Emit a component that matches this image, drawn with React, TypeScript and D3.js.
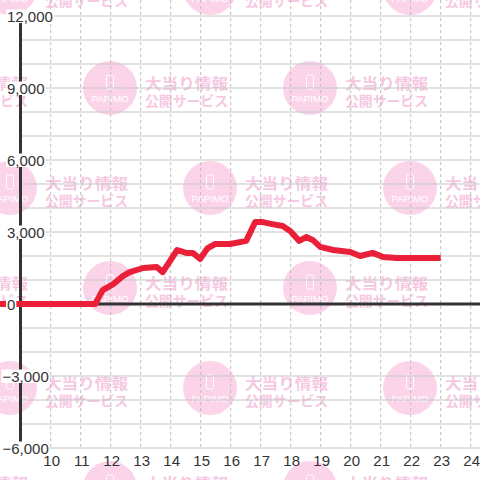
import { useRef, useEffect } from "react";
import * as d3 from 'd3';

// time of day (HH:MM) and balance at that time
const times = ["08:00", "11:29", "11:44", "12:05", "12:25", "12:38", "13:05", "13:32", "13:44", "14:13", "14:31", "14:44", "14:59", "15:14", "15:29", "15:59", "16:31", "16:49", "17:02", "17:23", "17:44", "17:59", "18:17", "18:31", "18:44", "18:59", "19:25", "19:59", "20:19", "20:44", "21:05", "21:32", "23:00"];
const values = [0, 0, 580, 830, 1170, 1330, 1500, 1540, 1330, 2250, 2130, 2130, 1880, 2330, 2500, 2500, 2630, 3420, 3420, 3330, 3250, 3040, 2630, 2790, 2670, 2380, 2250, 2170, 2000, 2130, 1960, 1920, 1920];

const hourTicks = [10, 11, 12, 13, 14, 15, 16, 17, 18, 19, 20, 21, 22, 23, 24];
const valueLabels = [12000, 9000, 6000, 3000, 0, -3000, -6000];
const gridValues = d3.range(-6000, 12001, 1000);

const WIDTH = 480;
const HEIGHT = 480;
const FONT = "'Liberation Sans', Arial, sans-serif";

function toHour(t: string) {
    const [h, m] = t.split(':').map(Number);
    return h + m / 60;
}

function Chart() {
    const svgRef = useRef<SVGSVGElement>(null);

    useEffect(() => {
        const svg = d3.select(svgRef.current);

        const x = d3.scaleLinear().domain([10, 24]).range([50.7, 470.7]);
        const y = d3.scaleLinear().domain([-6000, 12000]).range([448, 16]);

        //watermark tiles
        const wm = svg.append('g');
        const rows = [-12, 88, 188, 288, 388, 488];
        rows.forEach((cy, i) => {
            const start = i % 2 === 0 ? 10 : -90;
            for (let cx = start; cx < WIDTH + 50; cx += 200) {
                const g = wm.append('g').attr('transform', `translate(${cx},${cy})`);
                g.append('circle').attr('r', 27).attr('fill', '#fbd4ea');
                g.append('rect')
                    .attr('x', -3.5).attr('y', -13).attr('width', 7).attr('height', 14).attr('rx', 1.5)
                    .attr('fill', 'none').attr('stroke', '#fff').attr('stroke-width', 1);
                g.append('text')
                    .attr('y', 14).attr('text-anchor', 'middle')
                    .attr('font-family', FONT).attr('font-size', 9)
                    .attr('textLength', 37).attr('lengthAdjust', 'spacingAndGlyphs')
                    .attr('fill', '#fff').text('PAPIMO');
                g.append('text')
                    .attr('x', 35).attr('y', 1)
                    .attr('font-family', "'Noto Sans CJK JP', sans-serif").attr('font-weight', 700).attr('font-size', 15)
                    .attr('textLength', 83).attr('lengthAdjust', 'spacingAndGlyphs')
                    .attr('fill', '#f6c8e2').text('大当り情報');
                g.append('text')
                    .attr('x', 35).attr('y', 18)
                    .attr('font-family', "'Noto Sans CJK JP', sans-serif").attr('font-weight', 700).attr('font-size', 14)
                    .attr('textLength', 83).attr('lengthAdjust', 'spacingAndGlyphs')
                    .attr('fill', '#f6c8e2').text('公開サービス');
            }
        });

        //horizontal grid
        svg.append('g')
            .selectAll('line')
            .data(gridValues)
            .join('line')
            .attr('x1', 22).attr('x2', WIDTH)
            .attr('y1', d => y(d)).attr('y2', d => y(d))
            .attr('stroke', '#c6c6c6').attr('stroke-width', 1.2);

        //vertical dashed grid
        svg.append('g')
            .selectAll('line')
            .data(hourTicks)
            .join('line')
            .attr('x1', d => x(d)).attr('x2', d => x(d))
            .attr('y1', 0).attr('y2', y(-6000))
            .attr('stroke', '#bdbdbd').attr('stroke-width', 1)
            .attr('stroke-dasharray', '3,3');

        //zero line + y axis
        svg.append('line')
            .attr('x1', 20).attr('x2', WIDTH)
            .attr('y1', y(0)).attr('y2', y(0))
            .attr('stroke', '#333').attr('stroke-width', 3);
        svg.append('line')
            .attr('x1', 20.5).attr('x2', 20.5)
            .attr('y1', y(12000)).attr('y2', y(-6000))
            .attr('stroke', '#333').attr('stroke-width', 3);

        //series
        const line = d3.line<number>()
            .x((_, i) => x(toHour(times[i])))
            .y(d => y(d));
        svg.append('path')
            .datum(values)
            .attr('d', line)
            .attr('fill', 'none')
            .attr('stroke', '#ea2038')
            .attr('stroke-width', 6)
            .attr('stroke-linejoin', 'round');

        //y labels with white boxes
        const fmt = d3.format(',');
        valueLabels.forEach(v => {
            const lg = svg.append('g');
            const t = lg.append('text')
                .attr('x', v < 0 ? 2.5 : 7)
                .attr('y', y(v) + 5.5)
                .attr('font-family', FONT).attr('font-size', 15)
                .attr('fill', '#333')
                .text(fmt(v));
            const box = (t.node() as SVGTextElement).getBBox();
            lg.insert('rect', 'text')
                .attr('x', box.x - 1).attr('y', y(v) - 6.5)
                .attr('width', box.width + 2).attr('height', 13.5)
                .attr('fill', '#fff');
        });

        //x labels
        svg.append('g')
            .selectAll('text')
            .data(hourTicks)
            .join('text')
            .attr('x', d => x(d) + 1)
            .attr('y', 466)
            .attr('text-anchor', 'middle')
            .attr('font-family', FONT).attr('font-size', 15)
            .attr('fill', '#333')
            .text(d => d);

        return () => {
            svg.selectAll('*').remove();
        }
    }, [svgRef]);

    return (
        <svg ref={svgRef} width={WIDTH} height={HEIGHT}
            style={{ position: 'absolute', left: 0, top: 0, background: '#fff' }}>
        </svg>
    );
}

export default function App() {
    return <Chart />;
}
